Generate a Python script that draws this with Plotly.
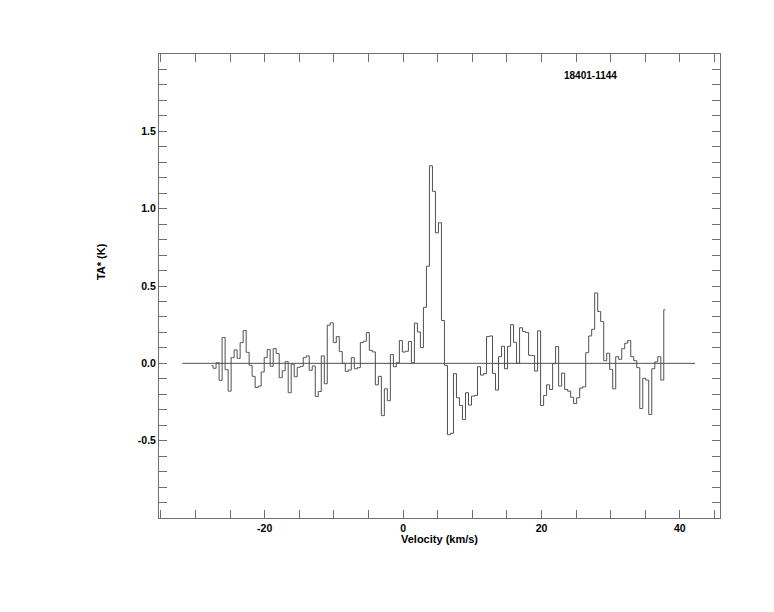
import plotly.graph_objects as go

# ---- data ----
velocity = [
    -27.67, -27.24, -26.80, -26.37, -25.93, -25.50, -25.06, -24.63, -24.20, -23.76,
    -23.33, -22.89, -22.46, -22.03, -21.59, -21.16, -20.72, -20.29, -19.85, -19.42,
    -18.99, -18.55, -18.12, -17.68, -17.25, -16.82, -16.38, -15.95, -15.51, -15.08,
    -14.64, -14.21, -13.78, -13.34, -12.91, -12.47, -12.04, -11.60, -11.17, -10.74,
    -10.30, -9.87, -9.43, -9.00, -8.57, -8.13, -7.70, -7.26, -6.83, -6.39,
    -5.96, -5.53, -5.09, -4.66, -4.22, -3.79, -3.35, -2.92, -2.49, -2.05,
    -1.62, -1.18, -0.75, -0.32, 0.12, 0.55, 0.99, 1.42, 1.86, 2.29,
    2.72, 3.16, 3.59, 4.03, 4.46, 4.90, 5.33, 5.76, 6.20, 6.63,
    7.07, 7.50, 7.93, 8.37, 8.80, 9.24, 9.67, 10.11, 10.54, 10.97,
    11.41, 11.84, 12.28, 12.71, 13.14, 13.58, 14.01, 14.45, 14.88, 15.32,
    15.75, 16.18, 16.62, 17.05, 17.49, 17.92, 18.36, 18.79, 19.22, 19.66,
    20.09, 20.53, 20.96, 21.39, 21.83, 22.26, 22.70, 23.13, 23.57, 24.00,
    24.43, 24.87, 25.30, 25.74, 26.17, 26.61, 27.04, 27.47, 27.91, 28.34,
    28.78, 29.21, 29.64, 30.08, 30.51, 30.95, 31.38, 31.82, 32.25, 32.68,
    33.12, 33.55, 33.99, 34.42, 34.85, 35.29, 35.72, 36.16, 36.59, 37.03,
    37.46, 37.89,
]

ta_star = [
    -0.015, -0.032, 0.004, -0.110, 0.167, -0.041, -0.180, 0.037, 0.087, 0.032,
    0.134, 0.212, 0.071, -0.013, -0.084, -0.156, -0.147, -0.056, 0.037, 0.089,
    -0.019, 0.095, 0.063, -0.093, -0.048, 0.011, -0.190, -0.006, -0.087, -0.026,
    -0.019, 0.037, 0.048, -0.045, -0.017, -0.214, -0.182, 0.048, -0.132, 0.247,
    0.262, 0.134, 0.173, 0.076, 0.000, -0.052, -0.043, 0.037, -0.035, -0.028,
    0.134, 0.143, 0.199, 0.084, 0.074, -0.139, -0.084, -0.338, -0.165, -0.242,
    0.056, -0.022, 0.004, 0.147, 0.073, 0.078, 0.141, 0.004, 0.260, 0.203,
    0.102, 0.362, 0.628, 1.277, 1.112, 0.844, 0.909, 0.277, -0.013, -0.461,
    -0.452, -0.067, -0.223, -0.273, -0.364, -0.190, -0.270, -0.212, -0.208, -0.022,
    -0.076, -0.067, 0.173, 0.177, -0.065, -0.173, 0.043, 0.110, -0.035, 0.110,
    0.250, 0.136, 0.000, 0.230, 0.206, 0.199, 0.052, 0.050, -0.050, 0.210,
    -0.273, -0.208, -0.139, -0.169, -0.002, 0.108, -0.147, -0.063, -0.169, -0.180,
    -0.219, -0.260, -0.223, -0.160, -0.152, 0.069, 0.177, 0.220, 0.455, 0.335,
    0.270, 0.017, 0.065, -0.039, -0.165, 0.043, 0.026, 0.095, 0.130, 0.147,
    0.043, 0.017, -0.028, -0.292, -0.097, -0.108, -0.331, -0.035, 0.009, 0.043,
    -0.108, 0.346,
]

baseline_v = [-31.9, 42.2]
baseline_t = [0.0, 0.0]

x_tick_vals = [-20, 0, 20, 40]
x_tick_text = ["-20", "0", "20", "40"]
y_tick_vals = [-0.5, 0.0, 0.5, 1.0, 1.5]
y_tick_text = ["-0.5", "0.0", "0.5", "1.0", "1.5"]

source_name = "18401-1144"
x_title = "Velocity (km/s)"
y_title = "TA* (K)"

# ---- styling ----
FRAME = "#707070"
TRACE = "#505050"
FONT = dict(family="Liberation Sans, Arial, sans-serif", size=10.5, color="black", weight="bold")

fig = go.Figure()
fig.add_trace(go.Scatter(
    x=baseline_v, y=baseline_t, mode="lines",
    line=dict(color=TRACE, width=1), hoverinfo="skip", showlegend=False,
))
fig.add_trace(go.Scatter(
    x=velocity, y=ta_star, mode="lines",
    line=dict(color=TRACE, width=1, shape="hvh"), showlegend=False,
))

axis_common = dict(
    showgrid=False, zeroline=False, showline=True, linecolor=FRAME, linewidth=1,
    mirror="ticks", ticks="inside", ticklen=8, tickwidth=1, tickcolor=FRAME,
    tickfont=FONT,
)

fig.update_xaxes(
    range=[-35.27, 45.8], tickmode="array", tickvals=x_tick_vals, ticktext=x_tick_text,
    minor=dict(dtick=5, tick0=0, ticks="inside", ticklen=8, tickwidth=1, tickcolor=FRAME),
    **axis_common,
)
fig.update_yaxes(
    range=[-1.0, 2.0], tickmode="array", tickvals=y_tick_vals, ticktext=y_tick_text,
    minor=dict(dtick=0.1, tick0=0, ticks="inside", ticklen=8, tickwidth=1, tickcolor=FRAME),
    **axis_common,
)

fig.add_annotation(
    x=27.1, y=1.864, xref="x", yref="y", text=source_name, showarrow=False,
    font=dict(family=FONT["family"], size=10, color="black", weight="bold"),
    xanchor="center", yanchor="middle",
)
fig.add_annotation(
    x=0.5, y=-0.0452, xref="paper", yref="paper", text=x_title, showarrow=False,
    font=dict(family=FONT["family"], size=11, color="black", weight="bold"),
    xanchor="center", yanchor="middle",
)
fig.add_annotation(
    x=-0.1022, y=0.553, xref="paper", yref="paper", text=y_title, showarrow=False,
    textangle=-90,
    font=dict(family=FONT["family"], size=11, color="black", weight="bold"),
    xanchor="center", yanchor="middle",
)

fig.update_layout(
    width=774, height=612,
    margin=dict(l=159, r=54, t=54, b=94, pad=0),
    paper_bgcolor="white", plot_bgcolor="white",
    showlegend=False,
)

fig.write_html(
    "out.html",
    config={"displayModeBar": False},
    post_script="document.body.style.margin='0';document.body.style.overflow='hidden';",
)
